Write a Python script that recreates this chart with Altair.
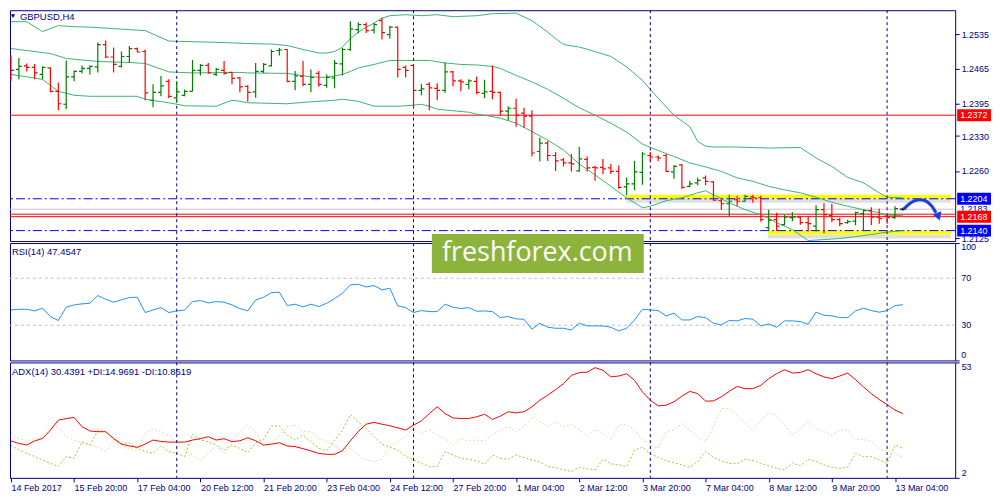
import altair as alt
import pandas as pd
import numpy as np

# ---------------- data (GBPUSD H4, bar 0 = 14 Feb 2017 12:00) ----------------
bar_high = [1.2492,1.2487,1.2476,1.2475,1.2470,1.2468,1.2437,1.2482,1.2462,1.2472,
            1.2472,1.2518,1.2522,1.2508,1.2500,1.2511,1.2508,1.2504,1.2434,1.2451,
            1.2444,1.2440,1.2423,1.2483,1.2475,1.2477,1.2467,1.2481,1.2459,1.2449,
            1.2432,1.2477,1.2477,1.2504,1.2507,1.2505,1.2461,1.2481,1.2464,1.2461,
            1.2454,1.2483,1.2507,1.2561,1.2559,1.2558,1.2558,1.2568,1.2552,1.2550,
            1.2472,1.2474,1.2435,1.2438,1.2436,1.2478,1.2461,1.2444,1.2444,1.2450,
            1.2443,1.2472,1.2419,1.2390,1.2405,1.2387,1.2382,1.2327,1.2320,1.2298,
            1.2286,1.2294,1.2308,1.2289,1.2270,1.2284,1.2274,1.2271,1.2247,1.2280,
            1.2298,1.2298,1.2291,1.2294,1.2272,1.2274,1.2240,1.2246,1.2251,1.2239,
            1.2206,1.2212,1.2210,1.2212,1.2212,1.2210,1.2182,1.2176,1.2172,1.2177,
            1.2169,1.2169,1.2191,1.2195,1.2194,1.2166,1.2162,1.2178,1.2182,1.2187,
            1.2184,1.2172,1.2189,1.2186]
bar_low = [1.2441,1.2444,1.2460,1.2444,1.2444,1.2418,1.2382,1.2384,1.2440,1.2456,
           1.2454,1.2458,1.2487,1.2458,1.2468,1.2477,1.2498,1.2402,1.2388,1.2410,
           1.2406,1.2398,1.2410,1.2420,1.2452,1.2456,1.2451,1.2454,1.2434,1.2418,
           1.2399,1.2407,1.2457,1.2470,1.2492,1.2438,1.2422,1.2430,1.2418,1.2429,
           1.2427,1.2426,1.2452,1.2501,1.2536,1.2537,1.2536,1.2524,1.2526,1.2448,
           1.2448,1.2387,1.2412,1.2382,1.2402,1.2417,1.2430,1.2420,1.2424,1.2414,
           1.2406,1.2404,1.2372,1.2362,1.2349,1.2347,1.2289,1.2279,1.2280,1.2260,
           1.2269,1.2259,1.2259,1.2259,1.2240,1.2254,1.2254,1.2224,1.2211,1.2221,
           1.2232,1.2279,1.2280,1.2258,1.2244,1.2224,1.2227,1.2231,1.2231,1.2200,
           1.2182,1.2168,1.2189,1.2198,1.2196,1.2158,1.2139,1.2139,1.2151,1.2159,
           1.2152,1.2138,1.2138,1.2134,1.2157,1.2149,1.2154,1.2151,1.2139,1.2151,
           1.2154,1.2154,1.2164,1.2180]
bar_open = [1.2476,1.2464,1.2471,1.2468,1.2454,1.2467,1.2420,1.2394,1.2449,1.2460,
            1.2466,1.2469,1.2514,1.2489,1.2470,1.2490,1.2506,1.2500,1.2402,1.2418,
            1.2440,1.2407,1.2412,1.2420,1.2462,1.2472,1.2454,1.2462,1.2458,1.2447,
            1.2430,1.2419,1.2460,1.2471,1.2502,1.2504,1.2440,1.2450,1.2434,1.2456,
            1.2432,1.2447,1.2475,1.2504,1.2544,1.2554,1.2543,1.2562,1.2534,1.2549,
            1.2468,1.2472,1.2422,1.2434,1.2426,1.2422,1.2459,1.2441,1.2434,1.2440,
            1.2416,1.2420,1.2418,1.2380,1.2386,1.2376,1.2370,1.2299,1.2316,1.2291,
            1.2282,1.2276,1.2260,1.2283,1.2267,1.2267,1.2266,1.2259,1.2228,1.2234,
            1.2257,1.2291,1.2288,1.2291,1.2258,1.2272,1.2229,1.2236,1.2246,1.2238,
            1.2200,1.2194,1.2202,1.2199,1.2208,1.2206,1.2146,1.2162,1.2152,1.2166,
            1.2167,1.2156,1.2149,1.2182,1.2170,1.2162,1.2156,1.2159,1.2174,1.2180,
            1.2167,1.2169,1.2166,1.2183]
bar_close = [1.2462,1.2470,1.2468,1.2457,1.2468,1.2420,1.2395,1.2449,1.2460,1.2466,
             1.2470,1.2514,1.2489,1.2474,1.2490,1.2506,1.2499,1.2417,1.2418,1.2431,
             1.2410,1.2419,1.2420,1.2462,1.2472,1.2457,1.2464,1.2456,1.2446,1.2429,
             1.2418,1.2460,1.2474,1.2500,1.2503,1.2440,1.2451,1.2434,1.2448,1.2434,
             1.2448,1.2476,1.2504,1.2545,1.2554,1.2542,1.2554,1.2538,1.2549,1.2464,
             1.2462,1.2422,1.2425,1.2427,1.2422,1.2459,1.2441,1.2439,1.2441,1.2418,
             1.2419,1.2418,1.2380,1.2386,1.2372,1.2370,1.2296,1.2316,1.2291,1.2280,
             1.2276,1.2274,1.2284,1.2266,1.2266,1.2264,1.2259,1.2227,1.2234,1.2258,
             1.2294,1.2288,1.2286,1.2259,1.2269,1.2227,1.2234,1.2241,1.2239,1.2201,
             1.2194,1.2199,1.2199,1.2209,1.2206,1.2162,1.2161,1.2149,1.2167,1.2167,
             1.2156,1.2154,1.2182,1.2172,1.2162,1.2154,1.2158,1.2176,1.2180,1.2167,
             1.2164,1.2166,1.2184,1.2183]

bb_upper_idx = [0,2,4,6,8,10,17,20,27,30,33,35,37,39,40,41,42,43,44,45,46,47,48,50,52,54,56,59,61,64,
                66,68,69,70,72,74,76,78,80,82,84,86,87,88,89,92,96,100,102,104,106,108,110,111,113]
bb_upper = [1.2560,1.2560,1.2540,1.2552,1.2550,1.2549,1.2542,1.2521,1.2518,1.2516,
            1.2515,1.2512,1.2504,1.2497,1.2497,1.2500,1.2509,1.2526,1.2539,1.2549,
            1.2557,1.2567,1.2572,1.2574,1.2572,1.2574,1.2570,1.2572,1.2576,1.2577,
            1.2562,1.2539,1.2526,1.2514,1.2509,1.2500,1.2490,1.2469,1.2442,1.2406,
            1.2372,1.2349,1.2319,1.2310,1.2308,1.2308,1.2306,1.2307,1.2286,1.2269,
            1.2247,1.2236,1.2216,1.2207,1.2206]
bb_mid_idx = [0,2,5,7,11,15,17,20,23,29,30,35,38,40,41,42,43,44,46,48,50,53,55,57,59,61,62,64,66,68,
              70,72,74,76,78,80,82,84,86,88,90,92,94,96,98,100,102,104,106,108,110,111,113]
bb_mid = [1.2506,1.2502,1.2496,1.2486,1.2480,1.2478,1.2476,1.2459,1.2457,1.2458,
          1.2457,1.2456,1.2449,1.2448,1.2451,1.2454,1.2460,1.2467,1.2474,1.2482,
          1.2482,1.2482,1.2477,1.2474,1.2473,1.2470,1.2466,1.2452,1.2439,1.2424,
          1.2406,1.2387,1.2372,1.2356,1.2338,1.2314,1.2301,1.2289,1.2276,1.2268,
          1.2259,1.2246,1.2239,1.2229,1.2222,1.2216,1.2207,1.2197,1.2189,1.2182,
          1.2176,1.2171,1.2170]
bb_lower_idx = [0,4,6,8,10,16,17,20,22,26,28,29,30,35,38,41,42,44,46,49,51,52,53,54,56,58,59,60,62,64,
                66,68,70,72,74,76,78,80,81,83,85,87,88,89,91,93,95,97,99,101,103,105,107,109,111,113]
bb_lower = [1.2454,1.2444,1.2420,1.2412,1.2410,1.2410,1.2404,1.2397,1.2391,1.2390,
            1.2402,1.2400,1.2397,1.2395,1.2399,1.2402,1.2404,1.2400,1.2390,1.2390,
            1.2392,1.2394,1.2390,1.2384,1.2381,1.2378,1.2374,1.2372,1.2366,1.2356,
            1.2339,1.2322,1.2302,1.2274,1.2252,1.2229,1.2206,1.2186,1.2189,1.2200,
            1.2206,1.2216,1.2220,1.2212,1.2196,1.2182,1.2172,1.2156,1.2142,1.2120,
            1.2122,1.2124,1.2128,1.2132,1.2137,1.2140]

rsi_values = [43.0,43.6,43.6,42.2,44.5,37.4,34.0,45.3,47.3,48.2, 48.7,55.3,52.1,49.6,51.6,53.6,53.8,40.8,43.0,45.0,
              40.8,42.2,42.8,50.1,51.0,49.0,50.1,49.6,47.3,44.2, 42.2,51.6,53.8,57.8,58.1,46.7,47.9,45.6,47.9,45.9,
              48.7,52.7,57.3,64.4,64.9,62.6,63.8,60.1,61.5,46.5, 45.0,40.8,42.5,41.6,41.6,47.9,45.3,44.2,45.0,41.9,
              42.2,41.6,36.5,37.4,35.4,35.1,26.6,31.7,28.3,27.4, 27.4,26.0,31.7,29.4,29.4,29.4,28.3,25.1,27.4,34.5,
              43.6,43.0,42.5,37.9,40.3,34.5,34.5,37.4,36.5,31.7, 30.3,34.0,33.7,35.7,35.1,29.4,31.1,28.3,33.7,33.7,
              33.1,30.8,41.1,38.5,37.9,36.5,36.5,42.2,44.5,42.5, 41.1,42.5,46.7,47.5]
adx_values = [18.3,17.2,16.5,18.3,19.4,23.1,27.5,28.2,28.7,24.6, 22.7,22.4,22.4,19.4,16.9,16.1,15.5,16.9,18.7,18.1,
              17.8,17.8,17.8,18.7,19.3,20.2,18.7,19.3,18.0,18.4, 19.7,18.4,16.5,16.9,17.5,16.1,15.8,14.9,13.9,12.8,
              12.4,12.4,14.0,18.4,22.5,25.7,26.5,25.7,25.0,24.1, 23.1,25.3,27.2,30.4,33.4,30.4,28.5,28.2,28.2,29.0,
              30.1,27.8,29.3,31.2,30.7,31.2,33.4,36.3,38.5,41.0, 43.6,47.3,48.5,48.7,50.7,49.5,46.6,47.0,48.0,45.1,
              40.0,36.3,33.8,34.1,35.6,38.1,40.2,39.2,35.9,36.0, 37.8,40.2,42.4,41.4,41.4,42.9,45.8,48.0,49.8,48.3,
              48.6,49.8,48.0,46.6,45.8,47.0,48.3,45.4,42.2,39.2, 36.6,34.4,31.9,30.4]
plus_di = [16.5,14.3,12.8,11.4,9.9,8.4,7.0,11.4,10.6,18.0, 16.5,22.8,22.4,19.4,17.2,17.5,15.0,13.6,12.8,16.1,
           13.6,12.8,11.4,21.3,18.7,18.0,16.5,14.3,16.5,15.0, 13.1,17.5,19.0,24.9,24.9,20.9,18.7,20.9,18.0,15.0,
           14.0,18.7,23.1,30.0,26.8,23.8,20.2,16.9,15.5,14.3, 11.4,9.9,8.4,7.0,7.0,13.6,12.1,10.6,10.2,9.5,
           8.0,12.1,10.6,10.2,12.1,10.9,9.9,8.9,7.0,6.5, 5.5,4.8,6.7,6.0,5.5,10.2,8.2,7.7,7.0,14.3,
           15.5,12.6,11.1,9.6,8.7,7.7,6.7,9.2,13.6,11.1, 9.5,8.4,8.2,10.2,9.6,8.4,7.3,6.2,5.5,8.7,
           7.3,10.2,9.2,7.7,6.7,6.2,6.7,12.8,11.4,11.4, 9.9,8.4,16.5,15.0]
minus_di = [21.9,19.4,18.0,18.7,20.5,23.8,24.6,20.2,18.7,17.5, 16.5,15.5,13.6,18.7,16.5,14.6,14.3,21.6,23.8,22.4,
            20.9,18.0,14.3,12.1,9.9,12.8,16.1,12.6,18.0,22.4, 25.3,22.4,15.8,18.0,20.2,24.6,25.3,22.4,22.4,19.4,
            18.0,16.1,13.6,15.0,12.1,9.9,9.2,10.2,15.8,18.0, 20.5,23.8,21.6,23.1,20.9,19.4,16.5,19.4,18.3,18.7,
            18.3,20.9,23.1,24.6,22.4,24.6,29.0,26.8,24.6,26.8, 24.6,25.6,23.1,20.5,23.4,21.6,18.7,25.3,25.7,23.1,
            18.7,16.5,15.0,22.4,23.1,26.0,23.1,20.2,18.0,24.6, 32.6,32.6,29.7,26.0,23.1,27.5,30.7,29.7,25.3,20.9,
            23.8,26.8,23.8,22.4,20.9,23.1,23.1,19.0,19.0,18.0, 15.0,14.0,12.8,10.9]

date_tick_idx = [0,8,16,24,32,40,48,56,64,72,80,88,96,104,112]
date_tick_labels = ["14 Feb 2017","15 Feb 20:00","17 Feb 04:00","20 Feb 12:00","21 Feb 20:00",
                    "23 Feb 04:00","24 Feb 12:00","27 Feb 20:00","1 Mar 04:00","2 Mar 12:00",
                    "3 Mar 20:00","7 Mar 04:00","8 Mar 12:00","9 Mar 20:00","13 Mar 04:00"]
separator_idx = [21, 51, 81, 111]
price_ticks = [1.2535, 1.2465, 1.2395, 1.2330, 1.2260, 1.2125]
rsi_ticks = [0, 30, 70, 100]
rsi_top_label = [100]
rsi_mid_labels = [70, 30]
rsi_bottom_label = [0]
rsi_levels = [30, 70]
adx_ticks = [2, 53]

red_levels = [1.2372, 1.2173, 1.2168]
gray_levels = [1.2183]
blue_levels = [1.2204, 1.2140]
zone_start = [78.0, 95.9]
zone_end = [119.1, 119.1]
zone_low = [1.2204, 1.2132]
zone_high = [1.2212, 1.2140]
bid_tag_price = [1.2183]
red_tag_price = [1.2372, 1.2168]
blue_tag_price = [1.2204, 1.2140]
arrow_i = [113.1, 113.9, 114.8, 115.8, 116.6, 117.2]
arrow_p = [1.2183, 1.2196, 1.2203, 1.2202, 1.2192, 1.2176]
arrow_head_i = [117.5]
arrow_head_p = [1.2168]

symbol_title = "GBPUSD,H4"
rsi_title = "RSI(14) 47.4547"
adx_title = "ADX(14) 30.4391 +DI:14.9691 -DI:10.8619"
watermark = "freshforex.com"

# ---------------- styling ----------------
NAVY = "#000080"
RED = "#FF0000"
GREEN = "#008000"
BLUE = "#0000FF"
BBC = "#3CB371"
FONT = "Liberation Sans"
PLOT_W = 950
PRICE_H, RSI_H, ADX_H = 232, 118, 116
X_DOMAIN = [-0.125, 119.625]
PRICE_DOMAIN = [1.2119, 1.2583]
BAR_W = 1.2

xs = alt.Scale(domain=X_DOMAIN, nice=False, zero=False)
XN = alt.X("i:Q", scale=xs, axis=None)      # panels without a time axis
XA = alt.X("i:Q", scale=xs)                 # ADX panel layers (axis defined in one layer)
ys = alt.Scale(domain=PRICE_DOMAIN, nice=False, zero=False)

def PY(field):
    return alt.Y(field, scale=ys)

bars = pd.DataFrame({"i": list(range(len(bar_high))), "high": bar_high, "low": bar_low,
                     "open": bar_open, "close": bar_close})
bars["dir"] = np.where(bars["close"] > bars["open"], "up",
                       np.where(bars["close"] < bars["open"], "down", "flat"))
bar_color = alt.Color("dir:N", scale=alt.Scale(domain=["up", "down", "flat"],
                                               range=[GREEN, RED, "#000000"]), legend=None)

price_axis = alt.Axis(orient="right", values=price_ticks, format=".4f", title=None, grid=False,
                      domain=False, tickSize=4, tickColor=NAVY, labelPadding=2, labelBaseline="middle",
                      labelOverlap=False)

sep_df = pd.DataFrame({"i": separator_idx})
def separators(xenc):
    return alt.Chart(sep_df).mark_rule(color=NAVY, strokeDash=[3, 3], strokeWidth=1).encode(x=xenc)

one = pd.DataFrame({"a": [0]})

zones = pd.DataFrame({"s": zone_start, "e": zone_end, "lo": zone_low, "hi": zone_high})
zones["shadow_lo"] = zones["lo"] - 0.0008
zone_shadow = alt.Chart(zones).mark_rect(color="#808080", opacity=0.25).encode(
    x=alt.X("s:Q", scale=xs, axis=None), x2="e:Q", y=PY("shadow_lo:Q"), y2="lo:Q")
zone_rect = alt.Chart(zones).mark_rect(color="#FFFF00").encode(
    x=alt.X("s:Q", scale=xs, axis=None), x2="e:Q", y=PY("lo:Q"), y2="hi:Q")

red_rules = alt.Chart(pd.DataFrame({"p": red_levels})).mark_rule(color=RED, strokeWidth=1).encode(y=PY("p:Q"))
gray_rules = alt.Chart(pd.DataFrame({"p": gray_levels})).mark_rule(color="#C8C8C8", strokeWidth=1).encode(
    y=PY("p:Q"))
blue_rules = alt.Chart(pd.DataFrame({"p": blue_levels})).mark_rule(
    color=BLUE, strokeWidth=1, strokeDash=[9, 3, 2, 3]).encode(y=PY("p:Q"))

def band(idx, vals):
    return alt.Chart(pd.DataFrame({"i": idx, "v": vals})).mark_line(color=BBC, strokeWidth=1).encode(
        x=XN, y=PY("v:Q"))

wick = alt.Chart(bars).mark_rule(strokeWidth=BAR_W, clip=True).encode(
    x=XN, y=alt.Y("low:Q", scale=ys, axis=price_axis), y2="high:Q", color=bar_color)
open_tick = alt.Chart(bars).mark_rule(strokeWidth=BAR_W, xOffset=-3, clip=True).encode(
    x=XN, x2="i:Q", y=PY("open:Q"), color=bar_color)
close_tick = alt.Chart(bars).mark_rule(strokeWidth=BAR_W, x2Offset=3, clip=True).encode(
    x=XN, x2="i:Q", y=PY("close:Q"), color=bar_color)

arrow_line = alt.Chart(pd.DataFrame({"i": arrow_i, "p": arrow_p})).mark_line(
    color="#1E3FE0", strokeWidth=3, interpolate="basis").encode(x=XN, y=PY("p:Q"))
arrow_head = alt.Chart(pd.DataFrame({"i": arrow_head_i, "p": arrow_head_p})).mark_point(
    shape="triangle-down", filled=True, size=90, color="#1E3FE0", opacity=1, angle=340).encode(
    x=XN, y=PY("p:Q"))

def tag_layers(prices, bg, fg):
    d = pd.DataFrame({"p": prices})
    d["t"] = d["p"].map(lambda v: "%.4f" % v)
    d["top"] = d["p"] + 0.0012
    d["bot"] = d["p"] - 0.0012
    r = alt.Chart(d).mark_rect(color=bg).encode(
        x=alt.value(952), x2=alt.value(986), y=PY("bot:Q"), y2="top:Q")
    t = alt.Chart(d).mark_text(align="left", baseline="middle", font=FONT, fontSize=9, color=fg).encode(
        x=alt.value(955), y=PY("p:Q"), text="t:N")
    return [r, t]

title_mark = alt.Chart(one).mark_text(align="left", baseline="middle", font=FONT, fontSize=9.5,
                                      color=NAVY, text=symbol_title).encode(
    x=alt.value(10), y=alt.value(7))
title_tri = alt.Chart(one).mark_point(shape="triangle-down", filled=True, size=18, color=NAVY,
                                      opacity=1).encode(x=alt.value(3), y=alt.value(6))

price = alt.layer(zone_shadow, zone_rect, gray_rules, red_rules, blue_rules,
                  band(bb_upper_idx, bb_upper), band(bb_mid_idx, bb_mid), band(bb_lower_idx, bb_lower),
                  separators(XN), wick, open_tick, close_tick, arrow_line, arrow_head,
                  *tag_layers(bid_tag_price, "#FFFFFF", NAVY),
                  *tag_layers(red_tag_price, RED, "#FFFFFF"),
                  *tag_layers(blue_tag_price, BLUE, "#FFFFFF"),
                  title_mark, title_tri).properties(width=PLOT_W, height=PRICE_H)

# ---------------- RSI ----------------
rs = alt.Scale(domain=[0, 100], nice=False, zero=False)
rsi_axis = alt.Axis(orient="right", values=rsi_ticks, title=None, grid=False, domain=False, tickSize=4,
                    tickColor=NAVY, labels=False)
rsi_df = pd.DataFrame({"i": list(range(len(rsi_values))), "v": rsi_values})
rsi_line = alt.Chart(rsi_df).mark_line(color="#1E90FF", strokeWidth=1).encode(
    x=XN, y=alt.Y("v:Q", scale=rs, axis=rsi_axis))
rsi_lv = alt.Chart(pd.DataFrame({"v": rsi_levels})).mark_rule(
    color="#C0C0C0", strokeDash=[3, 3], strokeWidth=1).encode(y=alt.Y("v:Q", scale=rs))

def rsi_scale_text(vals, baseline):
    return alt.Chart(pd.DataFrame({"v": vals})).mark_text(
        align="left", baseline=baseline, font=FONT, fontSize=9, color=NAVY).encode(
        x=alt.value(PLOT_W + 6), y=alt.Y("v:Q", scale=rs), text="v:Q")

rsi_lbl = alt.Chart(one).mark_text(align="left", baseline="middle", font=FONT, fontSize=9.5,
                                   color=NAVY, text=rsi_title).encode(x=alt.value(2), y=alt.value(9))
wm_rect = alt.Chart(one).mark_rect(color="#8CB43C").encode(
    x=alt.value(424), x2=alt.value(637), y=alt.value(-9), y2=alt.value(30))
wm_text = alt.Chart(one).mark_text(align="center", baseline="middle", font="Open Sans", fontSize=27,
                                   color="#FFFFFF", text=watermark).encode(x=alt.value(530), y=alt.value(10))
rsi = alt.layer(rsi_lv, separators(XN), rsi_line,
                rsi_scale_text(rsi_top_label, "top"), rsi_scale_text(rsi_mid_labels, "middle"),
                rsi_scale_text(rsi_bottom_label, "bottom"),
                rsi_lbl, wm_rect, wm_text).properties(width=PLOT_W, height=RSI_H)

# ---------------- ADX ----------------
ad = alt.Scale(domain=[2, 53], nice=False, zero=False)
adx_axis = alt.Axis(orient="right", values=adx_ticks, title=None, grid=False, domain=False, tickSize=4,
                    tickColor=NAVY, labelPadding=2, labelOverlap=False,
                    labelBaseline={"condition": {"test": "datum.value > 20", "value": "top"},
                                   "value": "bottom"})
label_expr = "[" + ",".join("'%s'" % s for s in date_tick_labels) + "][round(datum.value / 8)]"
date_axis = alt.Axis(orient="bottom", values=date_tick_idx, labelExpr=label_expr, title=None, grid=False,
                     domain=False, tickSize=4, tickColor=NAVY, labelAlign="left", labelPadding=2,
                     labelOverlap=False, labelFlush=False)
adx_df = pd.DataFrame({"i": list(range(len(adx_values))), "adx": adx_values,
                       "pdi": plus_di, "mdi": minus_di})
mdi_line = alt.Chart(adx_df).mark_line(color="#EED5A8", strokeWidth=1, strokeDash=[2, 2]).encode(
    x=alt.X("i:Q", scale=xs, axis=date_axis), y=alt.Y("mdi:Q", scale=ad))
pdi_line = alt.Chart(adx_df).mark_line(color="#9ACD32", strokeWidth=1, strokeDash=[2, 2]).encode(
    x=XA, y=alt.Y("pdi:Q", scale=ad))
adx_line = alt.Chart(adx_df).mark_line(color=RED, strokeWidth=1).encode(
    x=XA, y=alt.Y("adx:Q", scale=ad, axis=adx_axis))
adx_lbl = alt.Chart(one).mark_text(align="left", baseline="middle", font=FONT, fontSize=9.5,
                                   color=NAVY, text=adx_title).encode(x=alt.value(2), y=alt.value(10))
adx = alt.layer(mdi_line, pdi_line, adx_line, separators(XA), adx_lbl).properties(
    width=PLOT_W, height=ADX_H)

chart = alt.vconcat(price, rsi, adx, spacing=2, bounds="flush").properties(
    padding={"left": 0, "top": 0, "right": 0, "bottom": 0}
).configure_view(stroke=NAVY, strokeWidth=1).configure_axis(
    labelFont=FONT, labelFontSize=9, labelColor=NAVY
)

chart.save("out.html", embed_options={"renderer": "svg", "actions": False})
